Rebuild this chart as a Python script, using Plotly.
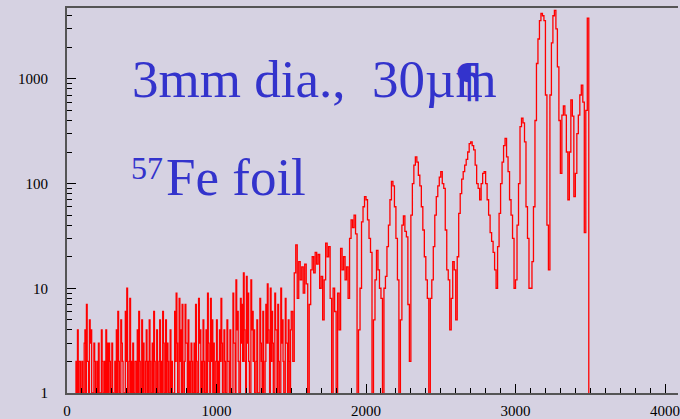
import numpy as np
import plotly.graph_objects as go

# ---- data ----
# low-count part: counts per 5-channel bin, channel 0 .. 1495
counts_low = [
    0, 0, 0, 0, 0, 0, 0, 0, 0, 0, 0, 0, 2, 1, 4, 0, 2, 2, 0, 1,          # 0-95
    2, 0, 1, 3, 4, 0, 7, 2, 2, 0, 5, 3, 4, 1, 1, 0, 3, 2, 0, 1,          # 100-195
    2, 0, 3, 1, 1, 0, 4, 2, 0, 1, 2, 0, 4, 1, 3, 0, 3, 2, 1, 0,          # 200-295
    3, 1, 0, 0, 2, 1, 4, 0, 6, 2, 1, 0, 5, 3, 2, 0, 0, 1, 6, 2,          # 300-395
    10, 0, 1, 2, 8, 1, 2, 0, 3, 1, 0, 2, 2, 0, 4, 1, 6, 2, 1, 0,         # 400-495
    5, 1, 3, 0, 0, 2, 4, 1, 2, 0, 5, 2, 1, 0, 3, 1, 6, 2, 0, 1,          # 500-595
    4, 0, 1, 2, 5, 1, 2, 0, 6, 3, 0, 1, 5, 0, 3, 2, 1, 0, 4, 1,          # 600-695
    2, 0, 0, 1, 6, 2, 9, 3, 1, 0, 8, 2, 4, 1, 7, 0, 0, 2, 7, 3,          # 700-795
    3, 1, 5, 0, 2, 1, 3, 2, 0, 1, 3, 0, 7, 2, 1, 0, 8, 3, 4, 1,          # 800-895
    2, 0, 5, 2, 0, 1, 4, 0, 9, 3, 2, 1, 8, 2, 5, 0, 3, 1, 0, 2,          # 900-995
    5, 1, 2, 0, 4, 2, 8, 3, 1, 0, 4, 2, 0, 1, 5, 2, 2, 0, 4, 1,          # 1000-1095
    1, 0, 9, 3, 3, 1, 12, 4, 6, 2, 0, 1, 8, 3, 7, 2, 14, 4, 2, 0,        # 1100-1195
    13, 3, 9, 2, 0, 1, 12, 4, 6, 2, 4, 1, 0, 2, 5, 1, 1, 0, 8, 3,        # 1200-1295
    2, 1, 6, 0, 0, 2, 7, 3, 11, 4, 3, 1, 10, 2, 6, 3, 0, 1, 9, 4,        # 1300-1395
    4, 1, 7, 2, 1, 0, 10, 3, 5, 2, 0, 1, 8, 3, 3, 0, 5, 2, 0, 4,         # 1400-1495
]
# absorption-resonance part: counts per 10-channel bin, channel 1500 .. 3490
counts_high = [
    6, 2, 14, 26, 8, 18, 12, 16, 9, 17,      # 1500-1590
    11, 0, 7, 15, 20, 14, 22, 17, 21, 10,    # 1600-1690
    13, 5, 12, 27, 20, 25, 8, 0, 10, 6,      # 1700-1790
    0, 9, 4, 24, 15, 20, 12, 16, 8, 30,      # 1800-1890
    45, 38, 50, 33, 0, 4, 10, 43, 60, 75,    # 1900-1990
    70, 45, 30, 22, 0, 5, 12, 23, 15, 10,    # 2000-2090
    8, 0, 10, 13, 25, 40, 70, 105, 95, 60,   # 2100-2190
    30, 12, 0, 5, 40, 49, 35, 31, 7, 2,      # 2200-2290
    50, 100, 150, 180, 160, 120, 95, 60, 36, 20,      # 2300-2390
    12, 8, 0, 8, 12, 25, 50, 75, 95, 115,             # 2400-2490
    130, 100, 90, 36, 15, 12, 4, 8, 18, 15,           # 2500-2590
    5, 20, 52, 80, 110, 130, 150, 170, 200, 240,      # 2600-2690
    250, 230, 210, 150, 100, 90, 70, 100, 125, 130,   # 2700-2790
    100, 70, 50, 34, 28, 22, 15, 10, 25, 52,          # 2800-2890
    100, 160, 230, 270, 180, 130, 70, 50, 30, 10,     # 2900-2990
    12, 40, 100, 350, 420, 380, 250, 60, 30, 10,      # 3000-3090
    10, 18, 60, 400, 1400, 2400, 3600, 4200, 4000, 3600,   # 3100-3190
    700, 40, 15, 700, 2200, 4000, 4500, 3000, 1300, 400,   # 3200-3290
    125, 450, 550, 450, 200, 70, 200, 630, 440, 75,        # 3300-3390
    125, 300, 450, 700, 870, 600, 34, 500, 3800, 0,        # 3400-3490
]
channels_low = np.arange(len(counts_low)) * 5
channels_high = 1500 + np.arange(len(counts_high)) * 10
channels = np.concatenate([channels_low, channels_high])
counts = counts_low + counts_high

x_tick_vals = [0, 1000, 2000, 3000, 4000]
x_tick_text = ["0", "1000", "2000", "3000", "4000"]
y_tick_vals = [1, 10, 100, 1000]
y_tick_text = ["1", "10", "100", "1000"]

# empty bins drawn at the bottom of the log axis (like ROOT)
y_plot = [c if c > 0 else 0.5 for c in counts]

BG = "#d6d2e2"
TEXT_BLUE = "#3333cc"

fig = go.Figure(
    go.Scatter(
        x=channels, y=y_plot, mode="lines",
        line=dict(color="#ff0000", width=1.3, shape="hv"),
        hoverinfo="skip",
    )
)

W, H = 680, 419
ML, MR, MT, MB = 67, 0, 8, 25
PW, PH = W - ML - MR, H - MT - MB


def px(xp):
    return (xp - ML) / PW


def py(yp):
    return (H - MB - yp) / PH


serif = "Liberation Serif"

fig.update_layout(
    width=W, height=H,
    margin=dict(l=ML, r=MR, t=MT, b=MB, pad=0),
    paper_bgcolor=BG, plot_bgcolor=BG,
    showlegend=False,
)

fig.update_xaxes(
    range=[0, 4086.7],
    tickmode="array", tickvals=x_tick_vals, ticktext=x_tick_text,
    ticks="inside", ticklen=9, tickwidth=1, tickcolor="black",
    showline=True, linecolor="#555555", linewidth=2, mirror=True,
    showgrid=False, zeroline=False,
    tickfont=dict(family=serif, size=15, color="black"),
    minor=dict(tickmode="array", tickvals=list(range(100, 4100, 100)),
               ticks="inside", ticklen=5, tickwidth=1, tickcolor="black", showgrid=False),
    ticklabeloverflow="allow",
    ticklabelstandoff=3,
)

minor_y = [m * 10 ** e for e in range(0, 4) for m in range(2, 10)]
fig.update_yaxes(
    type="log", range=[0, 3.676],
    tickmode="array", tickvals=y_tick_vals, ticktext=y_tick_text,
    ticks="inside", ticklen=9, tickwidth=1, tickcolor="black",
    showline=True, linecolor="#555555", linewidth=2, mirror=False,
    showgrid=False, zeroline=False,
    tickfont=dict(family=serif, size=15, color="black"),
    minor=dict(tickmode="array", tickvals=minor_y,
               ticks="inside", ticklen=5, tickwidth=1, tickcolor="black", showgrid=False),
    ticklabelstandoff=14,
)

big = 53
fig.add_annotation(text="3mm dia.,\u00a0\u00a030µm", x=px(130), y=py(79), xref="paper", yref="paper",
                   xanchor="left", yanchor="middle", showarrow=False,
                   font=dict(family=serif, size=big, color=TEXT_BLUE))
fig.add_annotation(text="¶", x=px(453), y=py(81), xref="paper", yref="paper",
                   xanchor="left", yanchor="middle", showarrow=False,
                   font=dict(family="DejaVu Sans", size=46, color=TEXT_BLUE))
fig.add_annotation(text="57", x=px(129), y=py(168), xref="paper", yref="paper",
                   xanchor="left", yanchor="middle", showarrow=False,
                   font=dict(family=serif, size=32, color=TEXT_BLUE))
fig.add_annotation(text="Fe foil", x=px(164), y=py(177), xref="paper", yref="paper",
                   xanchor="left", yanchor="middle", showarrow=False,
                   font=dict(family=serif, size=big, color=TEXT_BLUE))

fig.write_html("out.html", config={"displayModeBar": False})
